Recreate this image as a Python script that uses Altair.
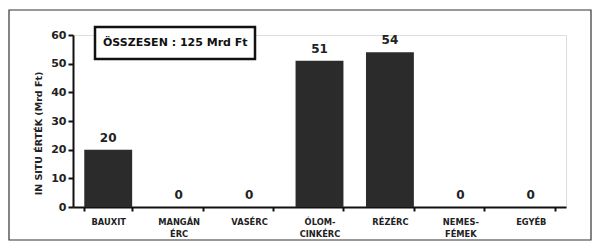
import altair as alt
import pandas as pd

categories = ["BAUXIT", "MANGÁN ÉRC", "VASÉRC", "ÓLOM- CINKÉRC", "RÉZÉRC", "NEMES- FÉMEK", "EGYÉB"]
values = [20, 0, 0, 51, 54, 0, 0]
y_ticks = [0, 10, 20, 30, 40, 50, 60]
total_label = "ÖSSZESEN : 125 Mrd Ft"
y_title = "IN SITU ÉRTÉK (Mrd Ft)"

df = pd.DataFrame({"cat": categories, "val": values})

FONT = "DejaVu Sans"

x_enc = alt.X(
    "cat:N",
    sort=categories,
    scale=alt.Scale(paddingInner=0.32, paddingOuter=0.16),
    axis=alt.Axis(
        title=None,
        labelAngle=0,
        labelExpr="datum.value ? split(datum.value, ' ') : ''",
        labelFont=FONT,
        labelFontSize=8.3,
        labelFontWeight="bold",
        labelColor="#222",
        labelPadding=6,
        labelLineHeight=12,
        tickBand="extent",
        ticks=True,
        tickSize=4,
        tickWidth=2,
        tickColor="#111",
        domainColor="#111",
        domainWidth=2,
        grid=False,
    ),
)

y_enc = alt.Y(
    "val:Q",
    scale=alt.Scale(domain=[0, 60], nice=False),
    axis=alt.Axis(
        title=y_title,
        values=y_ticks,
        titleFont=FONT,
        titleFontSize=9.5,
        titleFontWeight="bold",
        titleColor="#222",
        titlePadding=7,
        titleY=98,
        titleAlign="center",
        labelFont=FONT,
        labelFontSize=11,
        labelFontWeight="bold",
        labelColor="#222",
        labelPadding=2,
        ticks=True,
        tickSize=5,
        tickWidth=2,
        tickColor="#111",
        domainColor="#111",
        domainWidth=2,
        grid=False,
    ),
)

base = alt.Chart(df)

bars = base.mark_bar(color="#2b2b2b").encode(x=x_enc, y=y_enc)

labels = base.mark_text(
    font=FONT, fontSize=12, fontWeight="bold", color="#222", baseline="bottom", dy=-5
).encode(x=x_enc, y=y_enc, text="val:Q")

frame = alt.Chart(pd.DataFrame({"a": [0]})).mark_rect(
    fill=None, stroke="#333", strokeWidth=1.2
).encode(
    x=alt.value(-64), x2=alt.value(518), y=alt.value(-25), y2=alt.value(205)
)

box = alt.Chart(pd.DataFrame({"a": [0]})).mark_rect(
    fill="white", stroke="#111", strokeWidth=2.5
).encode(
    x=alt.value(22), x2=alt.value(182), y=alt.value(-8), y2=alt.value(24)
)

box_text = alt.Chart(pd.DataFrame({"t": [total_label]})).mark_text(
    font=FONT, fontSize=11, fontWeight="bold", color="#111", align="left", baseline="middle"
).encode(x=alt.value(30), y=alt.value(8), text="t:N")

chart = alt.layer(frame, bars, labels, box, box_text).properties(
    width=493,
    height=172,
    padding={"left": 65, "top": 27, "right": 26, "bottom": 34},
    autosize=alt.AutoSizeParams(type="none"),
).configure_view(stroke=None).configure(background="white")

chart.save("out.html", embed_options={"renderer": "svg", "actions": False})
